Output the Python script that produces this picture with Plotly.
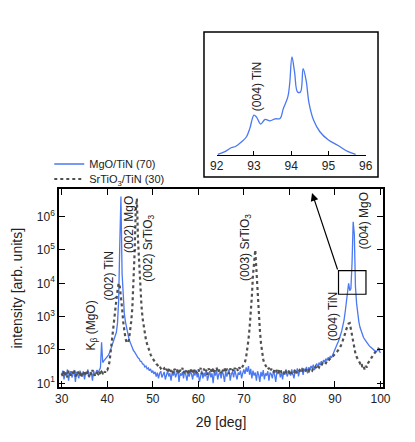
import numpy as np
import plotly.graph_objects as go

# scan positions, 0.25 deg step
two_theta = np.arange(30.0, 100.001, 0.25)

# MgO/TiN (70) intensities
mgo_tin = [
    # 30.00 - 37.75
    18, 24, 13, 21, 17, 26, 12, 20, 23, 15, 19, 25, 11, 22, 18, 14,
    24, 20, 16, 23, 13, 21, 19, 26, 15, 18, 22, 12, 24, 17, 20, 25,
    # 38.00 - 49.75
    21, 26, 29, 170, 42, 47, 52, 58, 60, 70, 82, 105, 130, 160, 200, 260,
    340, 650, 3000, 160000, 4000000, 20000, 2500, 1200, 700, 450, 310, 220,
    175, 140, 118, 96, 88, 74, 68, 58, 55, 46, 45, 38, 37, 31, 33, 27,
    29, 24, 27, 21,
    # 50.00 - 69.75
    24, 19, 22, 16, 21, 14, 20, 23, 15, 19,
    22, 13, 18, 24, 16, 20, 12, 21, 17, 23,
    15, 19, 25, 11, 20, 17, 22, 14, 24, 18,
    12, 21, 16, 23, 19, 13, 22, 17, 25, 15,
    20, 11, 18, 24, 14, 21, 16, 26, 12, 19,
    23, 15, 20, 10, 22, 17, 25, 13, 19, 21,
    14, 24, 18, 11, 23, 16, 20, 26, 12, 19,
    22, 15, 25, 17, 13, 21, 18, 24, 14, 20,
    # 70.00 - 79.75
    26, 19, 30, 22, 33, 18, 27, 14, 24, 17,
    21, 12, 23, 18, 11, 22, 16, 25, 13, 20,
    17, 23, 12, 21, 19, 14, 24, 18, 11, 22,
    19, 25, 15, 21, 13, 23, 18, 26, 16, 20,
    # 80.00 - 89.75
    23, 17, 26, 19, 14, 24, 21, 28, 16, 25,
    22, 29, 18, 27, 24, 31, 20, 30, 26, 33,
    28, 36, 25, 34, 39, 30, 42, 35, 46, 38,
    50, 43, 55, 48, 60, 52, 66, 58, 72, 80,
    # 90.00 - 100.00
    110, 125, 150, 180, 220, 290, 380, 520, 800, 1400,
    2500, 5000, 10000, 6000, 7000, 40000, 700000, 300000, 8000, 2500,
    1100, 700, 480, 360, 290, 240, 210, 185, 170, 150,
    135, 125, 115, 105, 100, 94, 88, 95, 105, 92,
    82,
]

# SrTiO3/TiN (30) intensities
srtio3_tin = [
    # 30.00 - 37.75
    20, 16, 23, 18, 21, 15, 24, 19, 17, 22, 20, 25, 16, 19, 23, 18,
    21, 15, 22, 19, 24, 17, 20, 23, 16, 21, 18, 25, 19, 17, 22, 20,
    # 38.00 - 49.75
    19, 23, 18, 22, 20, 24, 21, 26, 25, 31, 45, 90, 200, 450, 900, 1800,
    3200, 6000, 10000, 8000, 4500, 1800, 700, 350, 220, 170, 160, 200,
    330, 700, 1800, 8000, 80000, 1500000, 3500000, 200000, 30000, 7000, 2200, 900,
    480, 300, 200, 150, 115, 90, 74, 62,
    # 50.00 - 69.75
    54, 47, 43, 38, 36, 31, 33, 28, 30, 26,
    28, 23, 27, 21, 25, 29, 22, 26, 20, 27,
    24, 21, 28, 19, 25, 23, 29, 20, 26, 22,
    27, 18, 24, 28, 21, 25, 19, 27, 23, 20,
    26, 22, 29, 19, 24, 27, 21, 25, 18, 28,
    23, 26, 20, 28, 22, 25, 30, 21, 24, 27,
    20, 26, 23, 29, 21, 27, 24, 19, 28, 23,
    26, 22, 29, 24, 27, 23, 30, 26, 28, 33,
    # 70.00 - 79.75
    36, 44, 62, 100, 200, 450, 1200, 4000, 18000, 60000,
    100000, 25000, 5000, 1300, 420, 160, 80, 52, 40, 33,
    30, 26, 29, 23, 27, 24, 21, 26, 22, 25,
    20, 24, 27, 21, 23, 19, 25, 22, 20, 24,
    # 80.00 - 89.75
    21, 24, 19, 23, 22, 26, 20, 24, 22, 25,
    23, 21, 26, 24, 22, 27, 25, 23, 28, 26,
    24, 29, 27, 31, 28, 33, 30, 36, 34, 39,
    37, 42, 40, 47, 45, 52, 55, 60, 63, 70,
    # 90.00 - 100.00
    75, 82, 90, 100, 112, 130, 155, 190, 240, 320,
    420, 530, 620, 640, 420, 230, 140, 100, 78, 62,
    52, 46, 40, 44, 31, 34, 26, 33, 30, 40,
    44, 50, 58, 66, 76, 88, 98, 104, 110, 106,
    100,
]

# inset: MgO/TiN around (004), linear scale
inset_theta = [92.03, 92.22, 92.40, 92.49, 92.67, 92.80, 92.89, 93.00, 93.07, 93.18,
               93.30, 93.43, 93.57, 93.70, 93.79, 93.91, 93.96, 94.02, 94.09, 94.17,
               94.25, 94.32, 94.40, 94.48, 94.60, 94.77, 95.00, 95.27, 95.53, 95.73]
inset_counts = [0.7, 3.3, 7.5, 8.3, 13.3, 18.3, 26.7, 40, 38, 31,
                35.7, 34.3, 36.3, 36.7, 46.7, 58.3, 71.7, 98.3, 83.3, 63.3,
                63.3, 86.7, 75, 51.7, 35, 23.3, 15, 9.3, 3.3, 0.7]

BLUE = '#4a78f2'
GRAY = '#505050'
FONT = 'Liberation Sans'

fig = go.Figure()

fig.add_trace(go.Scatter(
    x=two_theta, y=mgo_tin, mode='lines', name='MgO/TiN (70)',
    line=dict(color=BLUE, width=1.3), legend='legend'
))
fig.add_trace(go.Scatter(
    x=two_theta, y=srtio3_tin, mode='lines', name='SrTiO<sub>3</sub>/TiN (30)',
    line=dict(color=GRAY, width=2.2, dash='dot'), legend='legend2'
))
fig.add_trace(go.Scatter(
    x=inset_theta, y=inset_counts, mode='lines', xaxis='x2', yaxis='y2',
    line=dict(color=BLUE, width=1.3, shape='spline'), showlegend=False
))

# peak labels (x in deg, y in log10 units)
labels = [
    ('K<sub>β</sub> (MgO)', 36.54, 2.72),
    ('(002) TiN', 40.28, 4.22),
    ('(002) MgO', 44.8, 5.75),
    ('(002) SrTiO<sub>3</sub>', 49.09, 5.06),
    ('(003) SrTiO<sub>3</sub>', 70.45, 5.09),
    ('(004) TiN', 89.6, 2.99),
    ('(004) MgO', 96.44, 5.87),
]
annotations = []
for text, lx, ly in labels:
    annotations.append(dict(
        text=text, x=lx, y=ly, xref='x', yref='y', showarrow=False,
        textangle=-90, font=dict(size=12, color='#222')
    ))

annotations.append(dict(
    text='(004) TiN', x=93.08, y=69, xref='x2', yref='y2', showarrow=False,
    textangle=-90, font=dict(size=12, color='#222')
))

# arrow from zoom box to inset
annotations.append(dict(
    text='', x=0.781, y=0.5146, xref='paper', yref='paper',
    ax=26, ay=78, axref='pixel', ayref='pixel', showarrow=True,
    arrowhead=2, arrowsize=1.3, arrowwidth=1.2, arrowcolor='black', standoff=0
))

shapes = [
    # inset frame
    dict(type='rect', xref='paper', yref='paper', x0=0.4475, x1=0.9846, y0=0.557, y1=0.9416,
         line=dict(color='black', width=1.5)),
    # zoom region
    dict(type='rect', xref='x', yref='y', x0=90.78, x1=96.81, y0=4700, y1=23900,
         line=dict(color='black', width=1.2)),
]

# page body adds an 8 px margin, so the figure is drawn 8 px smaller
fig.update_layout(
    width=407, height=434,
    margin=dict(l=51, r=32, t=2, b=55),
    plot_bgcolor='white', paper_bgcolor='white',
    font=dict(family=FONT, size=12, color='#222'),
    xaxis=dict(
        domain=[0, 1], range=[29.4, 100.55],
        tickvals=[30, 40, 50, 60, 70, 80, 90, 100],
        ticks='inside', ticklen=6, tickwidth=1.2, tickcolor='black',
        mirror='allticks', showline=True, linecolor='black', linewidth=1.5,
        showgrid=False, zeroline=False,
        title=dict(text='2θ [deg]', standoff=12),
    ),
    yaxis=dict(
        domain=[0, 0.5239], type='log', range=[0.889, 6.815],
        tickvals=[10, 100, 1000, 10000, 100000, 1000000],
        ticktext=['10<sup>1</sup>', '10<sup>2</sup>', '10<sup>3</sup>',
                  '10<sup>4</sup>', '10<sup>5</sup>', '10<sup>6</sup>'],
        ticks='inside', ticklen=6, tickwidth=1.2, tickcolor='black',
        mirror='allticks', showline=True, linecolor='black', linewidth=1.5,
        showgrid=False, zeroline=False,
        title=dict(text='intensity [arb. units]', standoff=11),
    ),
    xaxis2=dict(
        domain=[0.4867, 0.9466], anchor='y2', range=[92, 96],
        tickvals=[92, 93, 94, 95, 96],
        ticks='inside', ticklen=4, tickwidth=1.2, tickcolor='black',
        showline=True, linecolor='black', linewidth=1.2,
        showgrid=False, zeroline=False,
    ),
    yaxis2=dict(domain=[0.6154, 0.8798], anchor='x2', range=[0, 100], visible=False),
    legend=dict(x=-0.03, y=0.5915, xanchor='left', yanchor='middle',
                bgcolor='rgba(0,0,0,0)', font=dict(size=11), itemwidth=30),
    legend2=dict(x=-0.03, y=0.5517, xanchor='left', yanchor='middle',
                 bgcolor='rgba(0,0,0,0)', font=dict(size=11), itemwidth=30),
    annotations=annotations,
    shapes=shapes,
)

fig.write_html("out.html")
